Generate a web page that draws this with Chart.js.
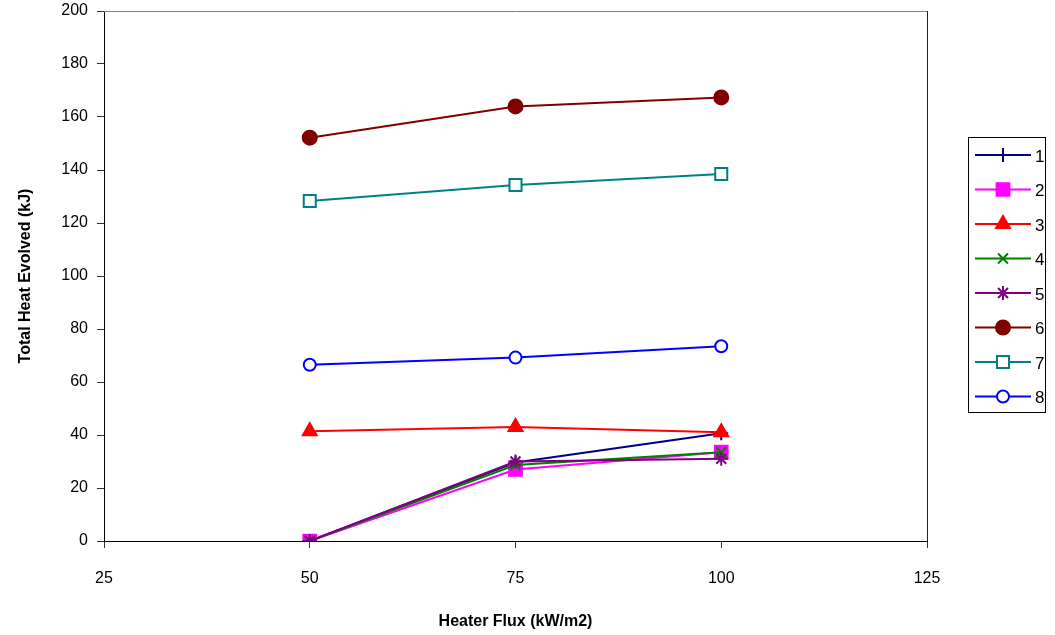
<!DOCTYPE html>
<html>
<head>
<meta charset="utf-8">
<script src="https://cdn.jsdelivr.net/npm/chart.js@4"></script>
<style>
  html,body{margin:0;padding:0;background:#fff;}
  #wrap{width:1055px;height:635px;}
</style>
</head>
<body>
<div id="wrap"><canvas id="chart" width="1055" height="635"></canvas></div>
<script>
/* ================= Data ================= */
const flux = [50, 75, 100];
const seriesNames = ['1','2','3','4','5','6','7','8'];
const s1 = [0, 29.6, 40.7];
const s2 = [0, 27.0, 33.5];
const s3 = [41.4, 43.0, 41.0];
const s4 = [0, 28.7, 33.5];
const s5 = [0, 30.0, 31.0];
const s6 = [152.2, 164.0, 167.4];
const s7 = [128.3, 134.3, 138.5];
const s8 = [66.5, 69.2, 73.5];
const xTicks = [25, 50, 75, 100, 125];
const yTicks = [0, 20, 40, 60, 80, 100, 120, 140, 160, 180, 200];

const styles = [
  {c:'#000080', p:'cross',    fill:true,  r:7},
  {c:'#FF00FF', p:'rect',     fill:true,  r:9},
  {c:'#FF0000', p:'triangle', fill:true,  r:8},
  {c:'#008000', p:'crossRot', fill:true,  r:7},
  {c:'#800080', p:'star',     fill:true,  r:7},
  {c:'#800000', p:'circle',   fill:true,  r:7},
  {c:'#008080', p:'rect',     fill:false, r:8.5},
  {c:'#0000FF', p:'circle',   fill:false, r:6}
];
const allSeries = [s1, s2, s3, s4, s5, s6, s7, s8];

const datasets = allSeries.map((vals, i) => ({
  label: seriesNames[i],
  data: vals.map((v, j) => ({x: flux[j], y: v})),
  borderColor: styles[i].c,
  backgroundColor: styles[i].c,
  borderWidth: 2,
  pointStyle: styles[i].p,
  pointRadius: styles[i].r,
  pointBorderWidth: 2,
  pointBackgroundColor: styles[i].fill ? styles[i].c : '#fff',
  pointBorderColor: styles[i].c,
  tension: 0
})).reverse();

/* ================= Plugins ================= */
const frame = {
  id: 'frame',
  beforeDatasetsDraw(chart){
    const a = chart.chartArea, c = chart.ctx;
    c.save();
    c.lineWidth = 1;
    c.strokeStyle = '#808080';
    c.beginPath();
    c.moveTo(a.left, a.top + 0.5);
    c.lineTo(a.right, a.top + 0.5);
    c.stroke();
    c.strokeStyle = '#222';
    c.beginPath();
    c.moveTo(a.right + 0.5, a.top);
    c.lineTo(a.right + 0.5, a.bottom);
    c.stroke();
    c.restore();
  }
};

const boxLegend = {
  id: 'boxLegend',
  afterDraw(chart){
    const c = chart.ctx;
    const x0 = 968, y0 = 137, w = 77, h = 275, gap = 34.5;
    c.save();
    c.fillStyle = '#fff';
    c.fillRect(x0, y0, w, h);
    c.strokeStyle = '#000';
    c.lineWidth = 1;
    c.strokeRect(x0 + 0.5, y0 + 0.5, w, h);
    c.font = '17px Arial, "Liberation Sans", sans-serif';
    c.textBaseline = 'middle';
    seriesNames.forEach((name, i) => {
      const st = styles[i];
      const y = y0 + 18 + i * gap;
      c.strokeStyle = st.c;
      c.lineWidth = 2;
      c.beginPath();
      c.moveTo(975, y);
      c.lineTo(1031, y);
      c.stroke();
      c.fillStyle = st.fill ? st.c : '#fff';
      c.lineWidth = 2;
      Chart.helpers.drawPoint(c, {pointStyle: st.p, radius: st.r, rotation: 0, borderWidth: 2}, 1003, y);
      c.fillStyle = '#000';
      c.fillText(name, 1035, y + 2);
    });
    c.restore();
  }
};

/* ================= Chart ================= */
new Chart(document.getElementById('chart'), {
  type: 'line',
  data: {datasets},
  plugins: [frame, boxLegend],
  options: {
    responsive: false,
    animation: false,
    layout: {padding: {top: 11, right: 128, left: 12, bottom: 0}},
    plugins: {legend: {display: false}, tooltip: {enabled: false}},
    scales: {
      x: {
        type: 'linear',
        min: 25, max: 125,
        afterBuildTicks: s => { s.ticks = xTicks.map(v => ({value: v})); },
        afterFit: s => { s.height = 94; s.paddingLeft = 0; s.paddingRight = 0; },
        border: {color: '#000', width: 1},
        grid: {drawOnChartArea: false, color: '#333', tickLength: 7},
        ticks: {color: '#000', font: {size: 16, family: 'Arial, "Liberation Sans"'}, padding: 21, maxRotation: 0},
        title: {display: true, text: 'Heater Flux (kW/m2)', color: '#000',
                font: {size: 16, weight: 'bold', family: 'Arial, "Liberation Sans"'}, padding: {top: 14}}
      },
      y: {
        min: 0, max: 200,
        afterBuildTicks: s => { s.ticks = yTicks.map(v => ({value: v})); },
        afterFit: s => { s.width = 92; s.paddingTop = 0; s.paddingBottom = 0; },
        border: {color: '#000', width: 1},
        grid: {drawOnChartArea: false, color: '#333', tickLength: 7},
        ticks: {color: '#000', font: {size: 16, family: 'Arial, "Liberation Sans"'}, padding: 9},
        title: {display: true, text: 'Total Heat Evolved (kJ)', color: '#000',
                font: {size: 16, weight: 'bold', family: 'Arial, "Liberation Sans"'}, padding: {bottom: 6}}
      }
    }
  }
});
</script>
</body>
</html>
